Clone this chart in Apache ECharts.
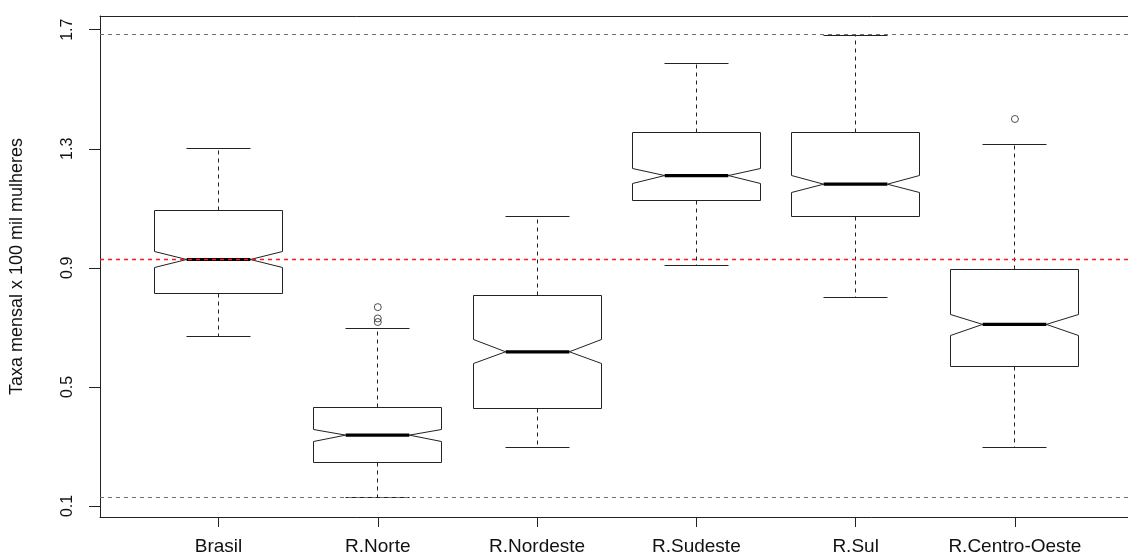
<!DOCTYPE html>
<html>
<head>
<meta charset="utf-8">
<script src="https://cdn.jsdelivr.net/npm/echarts@6/dist/echarts.min.js"></script>
<style>
html,body{margin:0;padding:0;background:#fff;}
#chart{width:1128px;height:559px;}
</style>
</head>
<body>
<div id="chart"></div>
<script>
// ---- data ----
const categories = ['Brasil', 'R.Norte', 'R.Nordeste', 'R.Sudeste', 'R.Sul', 'R.Centro-Oeste'];
const lowerWhisker = [0.670, 0.127, 0.297, 0.908, 0.802, 0.297];
const q1           = [0.813, 0.246, 0.427, 1.127, 1.074, 0.567];
const notchLow     = [0.900, 0.318, 0.579, 1.184, 1.152, 0.674];
const median       = [0.928, 0.338, 0.618, 1.210, 1.181, 0.710];
const notchHigh    = [0.954, 0.357, 0.659, 1.234, 1.211, 0.743];
const q3           = [1.091, 0.432, 0.808, 1.353, 1.356, 0.896];
const upperWhisker = [1.300, 0.697, 1.071, 1.588, 1.682, 1.313];
const outlierCategory = [2, 2, 2, 6];
const outlierValue    = [0.768, 0.730, 0.718, 1.400];
const maxLine = 1.683;
const minLine = 0.127;
const refLine = 0.928;
const yTicks = [0.1, 0.5, 0.9, 1.3, 1.7];
const xTicks = [1, 2, 3, 4, 5, 6];
const xMin = 0.256, xMax = 6.71;

// ---- build ----
const boxData = categories.map((c, i) => [i + 1, lowerWhisker[i], q1[i], notchLow[i], median[i], notchHigh[i], q3[i], upperWhisker[i]]);
const outlierData = outlierValue.map((v, i) => [outlierCategory[i], v]);

const INK = '#222';
const crisp = v => Math.round(v - 0.5) + 0.5;

function renderItem(params, api) {
  const x = api.value(0);
  const cx = crisp(api.coord([x, 0])[0]);
  const hw = api.size([0.4, 0])[0];
  const Y = v => crisp(api.coord([x, v])[1]);
  const lw = Y(api.value(1)), b1 = Y(api.value(2)), nl = Y(api.value(3)),
        md = api.coord([x, api.value(4)])[1], nh = Y(api.value(5)),
        b3 = Y(api.value(6)), uw = Y(api.value(7));
  const L = crisp(cx - hw), R = crisp(cx + hw);
  const l2 = cx - hw / 2, r2 = cx + hw / 2;
  const line = (x1, y1, x2, y2, extra) => ({
    type: 'line', shape: {x1, y1, x2, y2},
    style: Object.assign({stroke: INK, lineWidth: 1, fill: null}, extra || {})
  });
  return {
    type: 'group',
    children: [
      line(cx, b3, cx, uw, {lineDash: [4, 4]}),
      line(cx, b1, cx, lw, {lineDash: [4, 4]}),
      line(crisp(l2), uw, crisp(r2), uw),
      line(crisp(l2), lw, crisp(r2), lw),
      {
        type: 'polygon',
        shape: {points: [[L, b3], [R, b3], [R, nh], [r2, md], [R, nl], [R, b1], [L, b1], [L, nl], [l2, md], [L, nh]]},
        style: {fill: '#fff', stroke: INK, lineWidth: 1}
      },
      line(l2, md, r2, md, {lineWidth: 3.2, stroke: '#000'})
    ]
  };
}

// horizontal dashed reference line drawn through the custom series API
function refRender(color, width) {
  return function (params, api) {
    const v = api.value(0);
    const y = crisp(api.coord([xMin, v])[1]);
    const x1 = api.coord([xMin, v])[0], x2 = api.coord([xMax, v])[0];
    return {
      type: 'line', shape: {x1: x1, y1: y, x2: x2, y2: y},
      style: {stroke: color, lineWidth: width, lineDash: [4, 4], fill: null}
    };
  };
}
function hLine(value, color, width) {
  return {
    type: 'custom', z: 5, silent: true,
    renderItem: refRender(color, width),
    data: [[value]],
    encode: {y: 0}
  };
}

const chart = echarts.init(document.getElementById('chart'), null, {renderer: 'canvas'});
chart.setOption({
  animation: false,
  backgroundColor: '#fff',
  textStyle: {fontFamily: 'Liberation Sans, Arial, sans-serif'},
  grid: {left: 98, top: 16, width: 1030, height: 501, show: false},
  xAxis: [{
    type: 'value', min: xMin, max: xMax,
    splitLine: {show: false},
    axisLine: {show: true, onZero: false, lineStyle: {color: INK}},
    axisTick: {show: true, length: 10, customValues: xTicks, lineStyle: {color: INK}},
    axisLabel: {
      customValues: xTicks, margin: 20, fontSize: 19, color: '#111',
      formatter: v => categories[Math.round(v) - 1] || ''
    }
  }, {
    type: 'value', position: 'top', min: xMin, max: xMax,
    splitLine: {show: false},
    axisLine: {show: true, onZero: false, lineStyle: {color: INK}},
    axisTick: {show: false}, axisLabel: {show: false}
  }],
  yAxis: {
    type: 'value', min: 0.063, max: 1.746,
    name: 'Taxa mensal x 100 mil mulheres',
    nameLocation: 'middle', nameRotate: 90, nameGap: 74,
    nameTextStyle: {fontSize: 18, color: '#111'},
    splitLine: {show: false},
    axisLine: {show: true, onZero: false, lineStyle: {color: INK}},
    axisTick: {show: true, length: 11, customValues: yTicks, lineStyle: {color: INK}},
    axisLabel: {
      customValues: yTicks, rotate: 90, margin: 24, fontSize: 16, color: '#111',
      formatter: v => v.toFixed(1)
    }
  },
  series: [
    {
      type: 'custom', renderItem: renderItem, data: boxData, z: 2,
      encode: {x: 0, y: [1, 2, 3, 4, 5, 6, 7]}
    },
    {
      type: 'scatter', data: outlierData, z: 3,
      symbol: 'circle', symbolSize: 7,
      itemStyle: {color: 'rgba(255,255,255,0)', borderColor: INK, borderWidth: 1}
    },
    hLine(maxLine, '#6e6e6e', 1),
    hLine(minLine, '#6e6e6e', 1),
    hLine(refLine, '#ff1a1a', 1.5)
  ]
});
</script>
</body>
</html>
